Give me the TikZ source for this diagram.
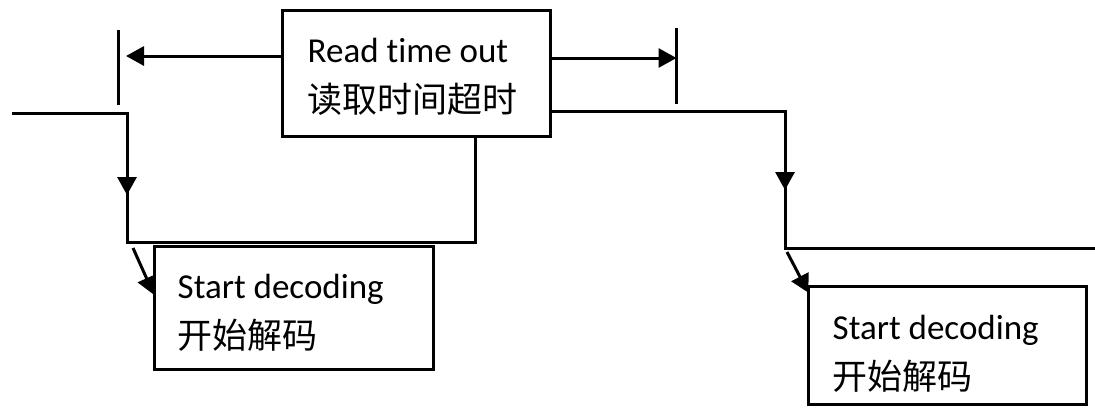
\documentclass[tikz,border=0pt]{standalone}
\usepackage{fontspec}
\setmainfont{Carlito}[Ligatures=NoCommon]
\newfontfamily\cjk{Noto Sans CJK SC}
\usetikzlibrary{arrows.meta,backgrounds}

\begin{document}
\begin{tikzpicture}[x=1pt,y=-1pt,
    wave/.style={line width=3pt},
    box/.style={draw,line width=3pt,fill=white,inner sep=0pt},
    lbl/.style={anchor=base west,inner sep=0pt,align=left,font=\fontsize{35}{50}\selectfont},
    tip/.style={-{Triangle[length=18pt,width=19pt]}}]
    \useasboundingbox (0,0) rectangle (1095,407);

    \node[box,minimum width=268pt,minimum height=126pt] (rto) at (416.5,73) {};
    \node[box,minimum width=279pt,minimum height=122.5pt] (sd1) at (293.7,308.2) {};
    \node[box,minimum width=278pt,minimum height=118pt] (sd2) at (947.4,345.4) {};

    \node[lbl] (rtotext) at (307.5,112.7) {Read time out\\{\cjk 读取时间超时}};
    \node[lbl] (sd1text) at (177.5,348.3) {Start decoding\\{\cjk 开始解码}};
    \node[lbl] (sd2text) at (832.5,389.3) {Start decoding\\{\cjk 开始解码}};

    \coordinate (w0) at (12,113);
    \coordinate (w1) at (127,113);
    \coordinate (w2) at (127,242);
    \coordinate (w3) at (475,242);
    \coordinate (a1) at (127,195);
    \coordinate (v0) at (785,111);
    \coordinate (v1) at (785,248);
    \coordinate (v2) at (1095,248);
    \coordinate (a2) at (785,190);
    \coordinate (t1a) at (118.5,30);
    \coordinate (t1b) at (118.5,105);
    \coordinate (t2a) at (676.5,28);
    \coordinate (t2b) at (676.5,104);
    \coordinate (s1) at (133,248);
    \coordinate (s2) at (787,252);

    \begin{scope}[on background layer]
        \draw[wave] (w0) -- (w1) -- (w2) -- (w3) -- (w3 |- rto.south);
        \draw[wave,tip] (w1) -- (a1);
        \draw[wave] (rto.east |- v0) -- (v0) -- (v1) -- (v2);
        \draw[wave,tip] (v0) -- (a2);
        \draw[wave] (t1a) -- (t1b);
        \draw[wave] (t2a) -- (t2b);
        \draw[wave,tip,shorten >=7.5pt] (rto.west |- 0,56) -- (t1a |- 0,56);
        \draw[wave,tip] (rto.east |- 0,58) -- (t2a |- 0,58);
        \draw[wave,tip,shorten >=-3pt] (s1) -- (sd1.west |- 0,292);
        \draw[wave,tip,shorten >=-3pt] (s2) -- (sd2.west |- 0,290);
    \end{scope}
\end{tikzpicture}
\end{document}
